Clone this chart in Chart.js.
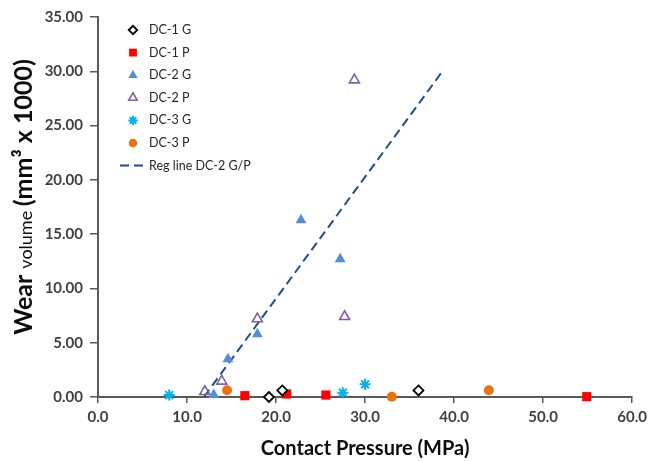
<!DOCTYPE html>
<html lang="en">
<head>
  <meta charset="UTF-8">
  <title>Wear volume vs contact pressure</title>
  <script src="https://cdn.jsdelivr.net/npm/chart.js"></script>
  <style>
    body { margin: 0; background: #fff; }
  </style>
</head>
<body>
  <canvas id="chart" width="652" height="461"></canvas>

  <script>
    // values
    const dc1gX = [19.2, 20.7, 36.0];
    const dc1gY = [0.0, 0.6, 0.6];
    const dc1pX = [16.5, 21.2, 25.6, 54.9];
    const dc1pY = [0.12, 0.28, 0.18, 0.03];
    const dc2gX = [13.0, 14.6, 17.9, 22.8, 27.2];
    const dc2gY = [0.2, 3.5, 5.8, 16.3, 12.7];
    const dc2pX = [12.0, 13.9, 17.9, 27.7, 28.8];
    const dc2pY = [0.5, 1.45, 7.2, 7.4, 29.2];
    const dc3gX = [8.0, 27.5, 30.0];
    const dc3gY = [0.18, 0.4, 1.17];
    const dc3pX = [14.5, 33.0, 43.9];
    const dc3pY = [0.62, 0.03, 0.62];
    const regX = [11.9, 38.6];
    const regY = [0, 29.9];

    const xTicks = [0, 10, 20, 30, 40, 50, 60];
    const yTicks = [0, 5, 10, 15, 20, 25, 30, 35];

    function pts(xs, ys) {
      return xs.map((x, i) => ({ x: x, y: ys[i] }));
    }

    const axisColor = '#595959';
    const tickColor = '#404040';

    // y title has mixed font sizes, so draw it by hand
    const yTitle = {
      id: 'yTitle',
      afterDraw(chart) {
        const ctx = chart.ctx;
        const parts = [
          ['Wear ', 'bold 25px Lato'],
          ['volume ', '18px Lato'],
          ['(mm\u00b3 x 1000)', 'bold 25px Lato']
        ];
        let total = 0;
        parts.forEach(p => { ctx.font = p[1]; total += ctx.measureText(p[0]).width; });
        ctx.save();
        ctx.translate(32, 197);
        ctx.rotate(-Math.PI / 2);
        ctx.fillStyle = '#0d0d0d';
        ctx.textBaseline = 'alphabetic';
        let x = -total / 2;
        parts.forEach(p => {
          ctx.font = p[1];
          ctx.fillText(p[0], x, 0);
          x += ctx.measureText(p[0]).width;
        });
        ctx.restore();
      }
    };

    // legend sits inside the plot, top left
    const innerLegend = {
      id: 'innerLegend',
      afterDraw(chart) {
        const ctx = chart.ctx;
        const left = chart.chartArea.left;
        ctx.save();
        ctx.font = '12.5px Lato';
        ctx.textBaseline = 'middle';
        chart.data.datasets.forEach((ds, i) => {
          const y = 30 + i * 22.6;
          const cx = left + 35;
          if (ds.showLine) {
            ctx.setLineDash(ds.borderDash);
            ctx.strokeStyle = ds.borderColor;
            ctx.lineWidth = ds.borderWidth;
            ctx.beginPath();
            ctx.moveTo(left + 22, y);
            ctx.lineTo(left + 48, y);
            ctx.stroke();
            ctx.setLineDash([]);
          } else {
            ctx.fillStyle = ds.backgroundColor;
            ctx.strokeStyle = ds.borderColor;
            ctx.lineWidth = ds.borderWidth;
            Chart.helpers.drawPoint(ctx, {
              pointStyle: ds.pointStyle,
              radius: ds.pointRadius * 0.85,
              borderWidth: ds.borderWidth,
              rotation: 0
            }, cx, y);
          }
          ctx.fillStyle = '#262626';
          ctx.textAlign = 'left';
          ctx.fillText(ds.label, left + 51, y);
        });
        ctx.restore();
      }
    };

    const ctx = document.getElementById('chart').getContext('2d');
    const chart = new Chart(ctx, {
      type: 'scatter',
      data: {
        datasets: [
          { label: 'DC-1 G', data: pts(dc1gX, dc1gY), pointStyle: 'rectRot', pointRadius: 5,
            backgroundColor: '#ffffff', borderColor: '#000000', borderWidth: 1.8, clip: false },
          { label: 'DC-1 P', data: pts(dc1pX, dc1pY), pointStyle: 'rect', pointRadius: 6.5,
            backgroundColor: '#ff0000', borderColor: '#ff0000', borderWidth: 0, clip: false },
          { label: 'DC-2 G', data: pts(dc2gX, dc2gY), pointStyle: 'triangle', pointRadius: 6.3,
            backgroundColor: '#558ed5', borderColor: '#558ed5', borderWidth: 0, clip: false },
          { label: 'DC-2 P', data: pts(dc2pX, dc2pY), pointStyle: 'triangle', pointRadius: 5.8,
            backgroundColor: 'rgba(255,255,255,0)', borderColor: '#7f5fa5', borderWidth: 1.6, clip: false },
          { label: 'DC-3 G', data: pts(dc3gX, dc3gY), pointStyle: 'star', pointRadius: 5.5,
            backgroundColor: '#00b0f0', borderColor: '#00b0f0', borderWidth: 2, clip: false },
          { label: 'DC-3 P', data: pts(dc3pX, dc3pY), pointStyle: 'circle', pointRadius: 5,
            backgroundColor: '#e8730f', borderColor: '#e8730f', borderWidth: 0, clip: false },
          { label: 'Reg line DC-2 G/P', data: pts(regX, regY), showLine: true, pointRadius: 0,
            borderColor: '#1f4e89', borderWidth: 2, borderDash: [9, 5], clip: false }
        ]
      },
      options: {
        responsive: false,
        animation: false,
        layout: { padding: { left: 0, top: 17, right: 19, bottom: 0 } },
        plugins: {
          legend: { display: false },
          tooltip: { enabled: false }
        },
        scales: {
          x: {
            type: 'linear',
            min: 0, max: 60,
            afterFit: s => { s.height = 64; },
            afterBuildTicks: s => { s.ticks = xTicks.map(v => ({ value: v })); },
            ticks: {
              color: tickColor, padding: 5,
              font: { family: 'Lato', size: 15, weight: 'bold' },
              callback: v => v.toFixed(1)
            },
            grid: { drawOnChartArea: false, drawTicks: true, tickLength: 6, color: axisColor, lineWidth: 1.5 },
            border: { display: true, color: axisColor, width: 2 },
            title: {
              display: true, text: 'Contact Pressure (MPa)', color: '#0d0d0d',
              font: { family: 'Lato', size: 20, weight: 'bold', lineHeight: 1 },
              padding: { top: 0, bottom: 2 }
            }
          },
          y: {
            type: 'linear',
            min: 0, max: 35,
            afterFit: s => { s.width = 98; },
            afterBuildTicks: s => { s.ticks = yTicks.map(v => ({ value: v })); },
            ticks: {
              color: tickColor, padding: 7,
              font: { family: 'Lato', size: 15, weight: 'bold' },
              callback: v => v.toFixed(2)
            },
            grid: { drawOnChartArea: false, drawTicks: true, tickLength: 8, color: axisColor, lineWidth: 1.5 },
            border: { display: true, color: axisColor, width: 2 }
          }
        }
      },
      plugins: [yTitle, innerLegend]
    });
  </script>
</body>
</html>
